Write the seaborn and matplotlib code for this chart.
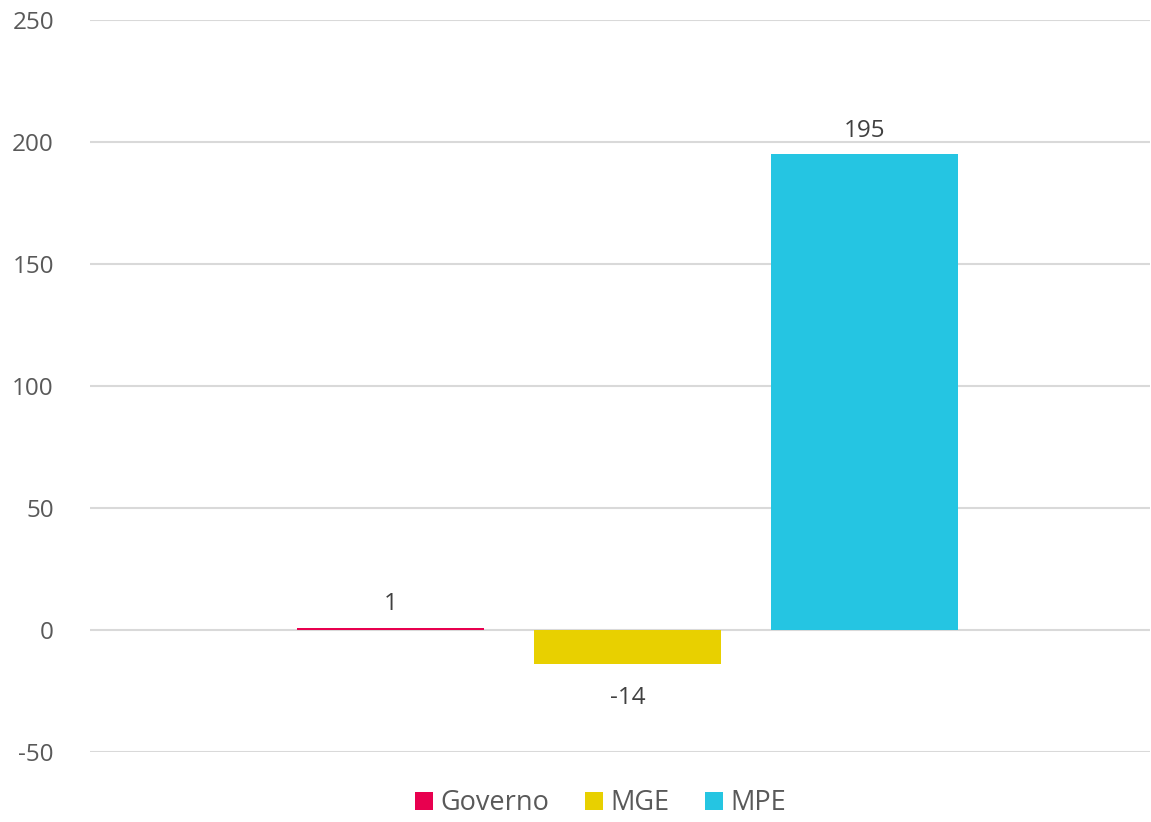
import matplotlib
matplotlib.use("Agg")
import matplotlib.pyplot as plt
import seaborn as sns
import pandas as pd
from matplotlib.patches import Patch

series = ["Governo", "MGE", "MPE"]
values = [1, -14, 195]
colors = ["#E8004F", "#E8D000", "#25C5E2"]
yticks = [-50, 0, 50, 100, 150, 200, 250]

sns.set_theme(style="white")
plt.rcParams['font.family'] = ['Open Sans', 'DejaVu Sans']

df = pd.DataFrame({"cat": [""] * 3, "serie": series, "valor": values})

fig = plt.figure(figsize=(11.51, 8.22), dpi=100)
ax = fig.add_axes([0.0782, 0.0852, 0.921, 0.8905])
sns.barplot(data=df, x="cat", y="valor", hue="serie", palette=colors,
            width=0.67, gap=0.21, legend=False, ax=ax, saturation=1,
            linewidth=0)

ax.set_ylim(-50, 250)
ax.set_xlim(-0.507, 0.493)
ax.set_yticks(yticks)
ax.set_yticklabels([str(t) for t in yticks], fontsize=17.5, color="#595959")
ax.tick_params(axis="y", length=0, pad=26)
ax.set_xticks([])
ax.set_xlabel("")
ax.set_ylabel("")
ax.yaxis.grid(True, color="#d9d9d9", linewidth=1.5)
ax.set_axisbelow(True)
for s in ax.spines.values():
    s.set_visible(False)

for cont in ax.containers:
    for bar in cont:
        h = bar.get_height()
        xc = bar.get_x() + bar.get_width() / 2
        if h >= 0:
            ax.annotate(f"{h:.0f}", (xc, h), xytext=(0, 8), textcoords="offset points",
                        ha="center", va="bottom", fontsize=17.5, color="#404040")
        else:
            ax.annotate(f"{h:.0f}", (xc, h), xytext=(0, -16), textcoords="offset points",
                        ha="center", va="top", fontsize=17.5, color="#404040")

handles = [Patch(facecolor=c, edgecolor="none") for c in colors]
fig.legend(handles, series, loc="lower center", ncol=3, frameon=False,
           bbox_to_anchor=(0.522, -0.024), fontsize=19.5, handlelength=0.65,
           handleheight=0.65, handletextpad=0.3, columnspacing=1.3,
           labelcolor="#595959")

fig.savefig("out.png", dpi=100)
